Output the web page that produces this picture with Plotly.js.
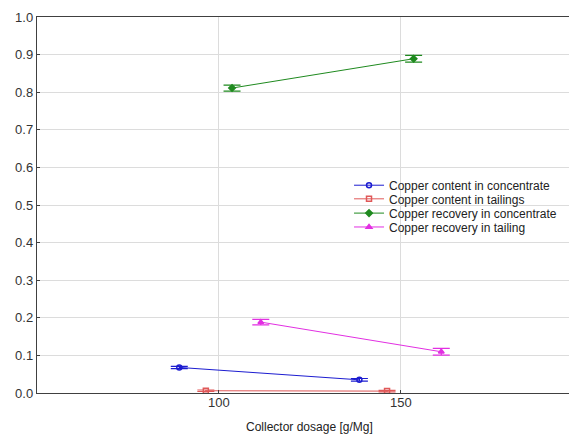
<!DOCTYPE html>
<html>
<head>
<meta charset="utf-8">
<script src="https://cdn.plot.ly/plotly-3.0.1.min.js"></script>
<style>
html, body { margin: 0; padding: 0; overflow: hidden; background: #fff; }
#chart { width: 569px; height: 434px; }
</style>
</head>
<body>
<div id="chart"></div>
<script>
// Data
const seriesNames = [
  "Copper content in concentrate",
  "Copper content in tailings",
  "Copper recovery in concentrate",
  "Copper recovery in tailing"
];
const contentConcX = [89.1, 138.6];
const contentConcY = [0.068, 0.035];
const contentConcErr = [0.003, 0.0035];

const contentTailX = [96.4, 146.2];
const contentTailY = [0.006, 0.005];
const contentTailErr = [0.002, 0.002];

const recovConcX = [103.6, 153.5];
const recovConcY = [0.811, 0.889];
const recovConcErr = [0.008, 0.009];

const recovTailX = [111.5, 161.1];
const recovTailY = [0.1885, 0.1097];
const recovTailErr = [0.0075, 0.009];

const xTickVals = [100, 150];
const xTickText = ["100", "150"];
const xTitle = "Collector dosage [g/Mg]";

const colors = ["#1c1cd0", "#e05858", "#1f8a1f", "#e22fe2"];
const symbols = ["circle-open", "square-open", "diamond", "triangle-up"];
const legendIds = ["legend", "legend2", "legend3", "legend4"];
const legendTops = [0.5912, 0.5550, 0.5170, 0.4801];

function mk(i, x, y, e) {
  return {
    type: "scatter",
    mode: "lines+markers",
    name: seriesNames[i],
    legend: legendIds[i],
    x: x, y: y,
    line: { color: colors[i], width: 1 },
    marker: { color: colors[i], symbol: symbols[i], size: 5, line: { color: colors[i], width: 1.5 } },
    error_y: { type: "data", array: e, visible: true, color: colors[i], thickness: 1.2, width: 8.5 }
  };
}

const data = [
  mk(0, contentConcX, contentConcY, contentConcErr),
  mk(1, contentTailX, contentTailY, contentTailErr),
  mk(2, recovConcX, recovConcY, recovConcErr),
  mk(3, recovTailX, recovTailY, recovTailErr)
];

function legendAt(i) {
  return {
    x: 0.5865,
    y: legendTops[i],
    xanchor: "left",
    yanchor: "top",
    bgcolor: "rgba(0,0,0,0)",
    borderwidth: 0,
    font: { size: 12, color: "#222222" }
  };
}

const layout = {
  width: 569,
  height: 434,
  margin: { l: 37, r: 0, t: 17, b: 41 },
  paper_bgcolor: "#ffffff",
  plot_bgcolor: "#ffffff",
  showlegend: true,
  font: { family: "Arial, Liberation Sans, sans-serif", color: "#333333" },
  xaxis: {
    range: [50, 196.2],
    tickvals: xTickVals,
    ticktext: xTickText,
    showgrid: true,
    gridcolor: "#dcdcdc",
    gridwidth: 1,
    zeroline: false,
    showline: true,
    linecolor: "#404040",
    linewidth: 1.2,
    mirror: true,
    ticks: "inside",
    ticklen: 3,
    tickcolor: "#404040",
    ticklabelstandoff: -3,
    tickfont: { size: 13, color: "#333333" },
    automargin: false
  },
  yaxis: {
    range: [0, 1.0],
    dtick: 0.1,
    tick0: 0,
    tickformat: ".1f",
    showgrid: true,
    gridcolor: "#dcdcdc",
    gridwidth: 1,
    zeroline: false,
    showline: true,
    linecolor: "#404040",
    linewidth: 1.2,
    mirror: false,
    ticks: "inside",
    ticklen: 3,
    tickcolor: "#404040",
    tickfont: { size: 13, color: "#333333" },
    automargin: false
  },
  legend: legendAt(0),
  legend2: legendAt(1),
  legend3: legendAt(2),
  legend4: legendAt(3),
  annotations: [{
    text: xTitle,
    xref: "paper", yref: "paper",
    x: 0.513, y: -0.0896,
    xanchor: "center", yanchor: "middle",
    showarrow: false,
    font: { size: 12, color: "#222222" }
  }]
};

Plotly.newPlot("chart", data, layout, { displayModeBar: false, staticPlot: true });
</script>
</body>
</html>
